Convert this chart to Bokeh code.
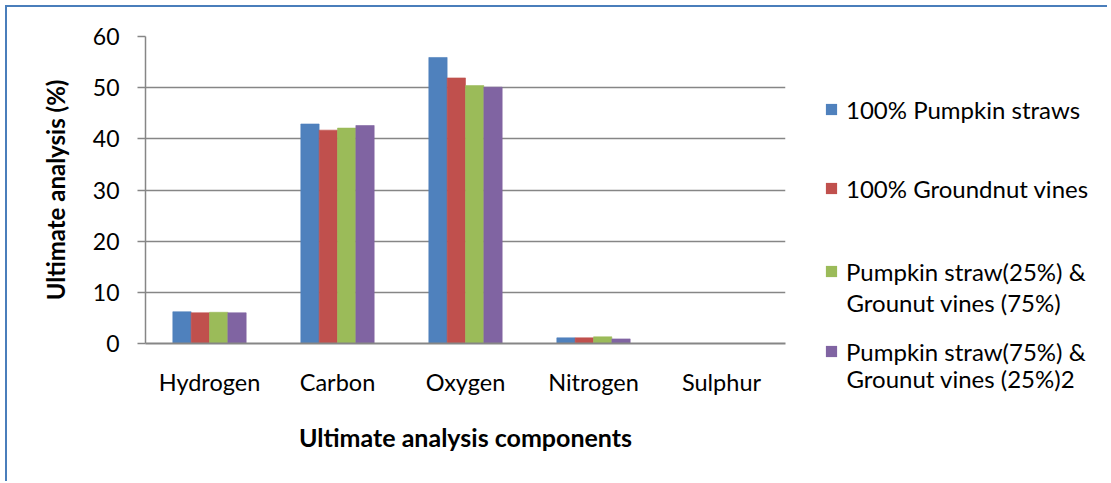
from bokeh.plotting import figure
from bokeh.models import FactorRange, Range1d, Legend, LegendItem, Label, FixedTicker
from bokeh.layouts import row
from bokeh.transform import dodge
from bokeh.embed import file_html
from bokeh.resources import INLINE

categories = ["Hydrogen", "Carbon", "Oxygen", "Nitrogen", "Sulphur"]
pumpkin_100 = [6.2, 42.9, 55.9, 1.1, 0.0]
groundnut_100 = [6.0, 41.7, 51.9, 1.1, 0.0]
pumpkin25_groundnut75 = [6.1, 42.1, 50.4, 1.3, 0.0]
pumpkin75_groundnut25 = [6.0, 42.6, 50.1, 0.9, 0.0]

series_names = ["100% Pumpkin straws", "100% Groundnut vines",
                "Pumpkin straw(25%) &", "Pumpkin straw(75%) &"]
series_second_lines = ["", "", "Grounut vines (75%)", "Grounut vines (25%)2"]
colors = ["#4f81bd", "#c0504d", "#9bbb59", "#8064a2"]
y_ticks = [0, 10, 20, 30, 40, 50, 60]

FONT = "Lato"
H = 474

data = dict(cat=categories, s0=pumpkin_100, s1=groundnut_100,
            s2=pumpkin25_groundnut75, s3=pumpkin75_groundnut25)

p = figure(x_range=FactorRange(factors=categories, range_padding=0),
           y_range=Range1d(0, 60),
           width=783, height=H,
           min_border_left=138, min_border_right=5,
           min_border_top=29, min_border_bottom=H - 29 - 307,
           output_backend="svg", toolbar_location=None)
p.frame_align = False

offsets = [-0.215, -0.0717, 0.0717, 0.215]
for i, off in enumerate(offsets):
    p.vbar(x=dodge("cat", off, range=p.x_range), top="s%d" % i, width=0.143,
           source=data, fill_color=colors[i], line_color=colors[i], line_alpha=0.6,
           line_width=1)

p.outline_line_color = None
p.xgrid.grid_line_color = None
p.ygrid.grid_line_color = "#868686"
p.ygrid.grid_line_width = 1.5

p.yaxis.ticker = FixedTicker(ticks=y_ticks)
p.yaxis.minor_tick_line_color = None
p.yaxis.major_tick_in = 0
p.yaxis.major_tick_out = 8
p.yaxis.major_tick_line_color = "#868686"
p.yaxis.major_tick_line_width = 1.5
p.yaxis.axis_line_color = "#868686"
p.yaxis.axis_line_width = 1.5
p.yaxis.major_label_text_font = FONT
p.yaxis.major_label_text_font_size = "23px"
p.yaxis.major_label_text_color = "black"
p.yaxis.major_label_standoff = 18
p.yaxis.axis_label = "Ultimate analysis (%)"
p.yaxis.axis_label_text_font = FONT
p.yaxis.axis_label_text_font_style = "bold"
p.yaxis.axis_label_text_font_size = "24px"
p.yaxis.axis_label_text_color = "black"
p.yaxis.axis_label_standoff = 20

p.xaxis.major_tick_line_color = None
p.xaxis.major_tick_out = 0
p.xaxis.major_tick_in = 0
p.xaxis.axis_line_color = "#868686"
p.xaxis.axis_line_width = 2
p.xaxis.major_label_text_font = FONT
p.xaxis.major_label_text_font_size = "23.5px"
p.xaxis.major_label_text_color = "black"
p.xaxis.major_label_standoff = 24
p.xaxis.axis_label = "Ultimate analysis components"
p.xaxis.axis_label_text_font = FONT
p.xaxis.axis_label_text_font_style = "bold"
p.xaxis.axis_label_text_font_size = "25px"
p.xaxis.axis_label_text_color = "black"
p.xaxis.axis_label_standoff = 23

# legend panel
leg = figure(width=317, height=H, x_range=Range1d(0, 1), y_range=Range1d(0, 1),
             min_border=0, output_backend="svg", toolbar_location=None)
leg.frame_align = False
leg.axis.visible = False
leg.grid.visible = False
leg.outline_line_color = None

key_renderers = []
for i in range(4):
    # zero-area key glyphs: only used to draw the legend swatches
    key_renderers.append(leg.vbar(x=[0.5], top=[0], bottom=[0], width=0,
                                  fill_color=colors[i], line_color=None))

CANVAS_BOTTOM = 7 + H
item_centers = [109, 188, 271, 351]        # page px from top
second_line_centers = [None, None, 302, 378]
for i in range(4):
    lg = Legend(items=[LegendItem(label=series_names[i], renderers=[key_renderers[i]])],
                location=(34, CANVAS_BOTTOM - item_centers[i] - 15),
                glyph_width=14, glyph_height=14, label_standoff=8,
                label_height=30, spacing=0, padding=0, margin=0,
                border_line_color=None, background_fill_alpha=0,
                label_text_font=FONT, label_text_font_size="24px",
                label_text_color="black", label_text_baseline="middle")
    leg.add_layout(lg, "center")
    if series_second_lines[i]:
        leg.add_layout(Label(x=56, y=CANVAS_BOTTOM - second_line_centers[i],
                             x_units="screen", y_units="screen",
                             text=series_second_lines[i],
                             text_font=FONT, text_font_size="24px", text_color="black",
                             text_baseline="middle", text_align="left"))

layout = row(p, leg)
layout.styles = {"border-left": "2px solid #4a7ebb", "border-top": "2px solid #4a7ebb",
                 "margin-left": "5px", "margin-top": "5px"}

open("out.html", "w").write(file_html(layout, INLINE))
